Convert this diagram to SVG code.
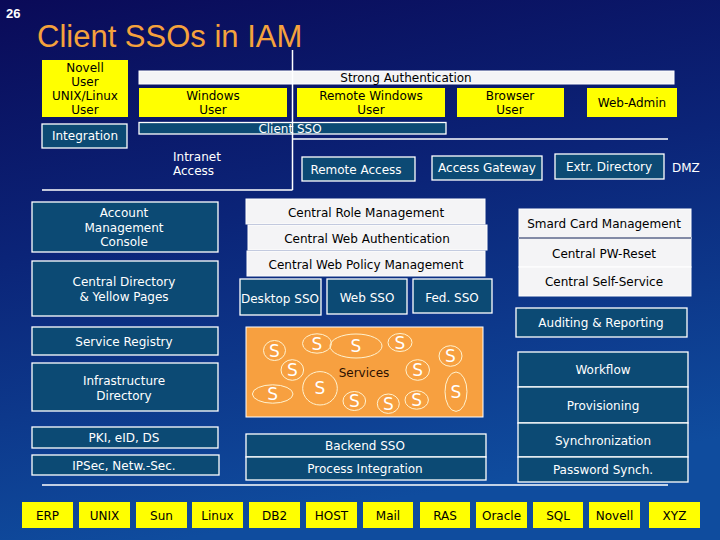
<svg xmlns="http://www.w3.org/2000/svg" width="720" height="540" viewBox="0 0 720 540">
<defs>
<linearGradient id="bg" x1="0" y1="0" x2="0.25" y2="1">
<stop offset="0" stop-color="#0a0a58"/>
<stop offset="0.45" stop-color="#0b2478"/>
<stop offset="1" stop-color="#0f4c9e"/>
</linearGradient>
<style>
text{font-family:"DejaVu Sans",Verdana,sans-serif;font-size:12px;text-anchor:middle}
.y{fill:#ffff00;stroke:none}
.yt{fill:#000}
.t{fill:#0c4a74;stroke:#fff;stroke-width:1.3}
.tt{fill:#fff}
.w{fill:#f4f4f6;stroke:#fff;stroke-width:1}
.wt{fill:#000}
.ln{stroke:#fff;stroke-width:1.5;fill:none}
.s{fill:none;stroke:#fff3d0;stroke-width:1}
.st{fill:#fff;font-size:17px}
</style>
</defs>
<rect width="720" height="540" fill="url(#bg)"/>
<text x="6" y="18" style="font-family:'Liberation Sans',Arial,sans-serif;font-weight:bold;font-size:13px;text-anchor:start;fill:#fff">26</text>
<text x="37" y="47" style="font-family:'Liberation Sans',Arial,sans-serif;font-size:31px;text-anchor:start;fill:#f5a23c">Client SSOs in IAM</text>

<g id="novell-unix"><rect class="y" x="42" y="60" width="86" height="57"/>
<text class="yt" x="85" y="72">Novell</text><text class="yt" x="85" y="86">User</text><text class="yt" x="85" y="100">UNIX/Linux</text><text class="yt" x="85" y="114">User</text></g>
<g id="integration"><rect class="t" x="42" y="124" width="85" height="24"/><text class="tt" x="85" y="140">Integration</text></g>
<g id="strong-auth"><rect class="w" x="139" y="71" width="535" height="13"/><text class="wt" x="406" y="82">Strong Authentication</text></g>
<g id="windows-user"><rect class="y" x="139" y="88" width="148" height="29"/><text class="yt" x="213" y="100">Windows</text><text class="yt" x="213" y="114">User</text></g>
<g id="remote-windows-user"><rect class="y" x="297" y="88" width="148" height="29"/><text class="yt" x="371" y="100">Remote Windows</text><text class="yt" x="371" y="114">User</text></g>
<g id="browser-user"><rect class="y" x="457" y="88" width="107" height="29"/><text class="yt" x="510" y="100">Browser</text><text class="yt" x="510" y="114">User</text></g>
<g id="web-admin"><rect class="y" x="587" y="88" width="90" height="29"/><text class="yt" x="632" y="107">Web-Admin</text></g>
<g id="client-sso"><rect class="t" x="139" y="122.5" width="307" height="11.5"/><text class="tt" x="290" y="132.5">Client SSO</text></g>
<g id="intranet-access"><text class="tt" x="173" y="161" style="text-anchor:start">Intranet</text><text class="tt" x="173" y="175" style="text-anchor:start">Access</text></g>
<g id="remote-access"><rect class="t" x="302" y="157" width="113" height="24"/><text class="tt" x="356" y="173.5">Remote Access</text></g>
<g id="access-gateway"><rect class="t" x="432" y="156" width="110" height="24"/><text class="tt" x="487" y="172">Access Gateway</text></g>
<g id="extr-directory"><rect class="t" x="555" y="154" width="109" height="25"/><text class="tt" x="609" y="170.5">Extr. Directory</text></g>
<g id="dmz"><text class="tt" x="672" y="172" style="text-anchor:start">DMZ</text></g>

<g id="account-mgmt"><rect class="t" x="32" y="202" width="186" height="50"/><text class="tt" x="124" y="217">Account</text><text class="tt" x="124" y="232">Management</text><text class="tt" x="124" y="246">Console</text></g>
<g id="central-directory"><rect class="t" x="32" y="261" width="186" height="55"/><text class="tt" x="124" y="285.5">Central Directory</text><text class="tt" x="124" y="300.5">&amp; Yellow Pages</text></g>
<g id="service-registry"><rect class="t" x="32" y="327" width="186" height="28"/><text class="tt" x="124" y="345.5">Service Registry</text></g>
<g id="infra-directory"><rect class="t" x="32" y="363" width="186" height="48"/><text class="tt" x="124" y="384.5">Infrastructure</text><text class="tt" x="124" y="399.5">Directory</text></g>
<g id="pki"><rect class="t" x="32" y="427" width="186" height="21"/><text class="tt" x="124" y="442">PKI, eID, DS</text></g>
<g id="ipsec"><rect class="t" x="32" y="455" width="187" height="20"/><text class="tt" x="124" y="469.5">IPSec, Netw.-Sec.</text></g>

<g id="central-role"><rect class="w" x="246" y="199" width="239" height="25"/><text class="wt" x="366" y="217">Central Role Management</text></g>
<g id="central-web-auth"><rect class="w" x="248" y="225" width="239" height="25"/><text class="wt" x="367" y="242.5">Central Web Authentication</text></g>
<g id="central-web-policy"><rect class="w" x="247" y="251" width="238" height="25"/><text class="wt" x="366" y="268.5">Central Web Policy Management</text></g>
<g id="desktop-sso"><rect class="t" x="240" y="279" width="81" height="36"/><text class="tt" x="280" y="302.5">Desktop SSO</text></g>
<g id="web-sso"><rect class="t" x="327" y="279" width="80" height="35"/><text class="tt" x="367" y="301.5">Web SSO</text></g>
<g id="fed-sso"><rect class="t" x="413" y="279" width="79" height="34"/><text class="tt" x="452" y="301.5">Fed. SSO</text></g>

<g id="smard-card"><rect class="w" x="519" y="209" width="172" height="29"/><text class="wt" x="604" y="228">Smard Card Management</text></g>
<g id="central-pw-reset"><rect class="w" x="519" y="238" width="172" height="29"/><text class="wt" x="604" y="257.5">Central PW-Reset</text></g>
<g id="central-self-service"><rect class="w" x="519" y="267" width="172" height="29"/><text class="wt" x="604" y="285.5">Central Self-Service</text></g>
<line x1="519" y1="238" x2="691" y2="238" stroke="#0b1a50" stroke-width="1"/>
<g id="auditing"><rect class="t" x="516" y="308" width="171" height="29"/><text class="tt" x="601" y="327">Auditing &amp; Reporting</text></g>

<g id="services"><rect x="246" y="327" width="237" height="90" fill="#f7a040" stroke="#fff" stroke-width="1"/>
<text x="364" y="376.5" style="fill:#2a1000">Services</text>
<ellipse class="s" cx="274.5" cy="350.5" rx="11" ry="10"/><text class="st" x="274.5" y="356.5">S</text>
<ellipse class="s" cx="317" cy="343.5" rx="14.5" ry="9.7"/><text class="st" x="317" y="349.5">S</text>
<ellipse class="s" cx="356" cy="346" rx="26" ry="12"/><text class="st" x="356" y="352">S</text>
<ellipse class="s" cx="400" cy="342.5" rx="12" ry="9"/><text class="st" x="400" y="348.5">S</text>
<ellipse class="s" cx="450.5" cy="356" rx="11.5" ry="10.3"/><text class="st" x="450.5" y="362">S</text>
<ellipse class="s" cx="292.3" cy="370" rx="11.3" ry="10.3"/><text class="st" x="292.3" y="376">S</text>
<ellipse class="s" cx="417.7" cy="370" rx="11.8" ry="10.3"/><text class="st" x="417.7" y="376">S</text>
<ellipse class="s" cx="320" cy="388.3" rx="17.3" ry="16.7"/><text class="st" x="320" y="394.3">S</text>
<ellipse class="s" cx="272.7" cy="394" rx="20.3" ry="9.2"/><text class="st" x="272.7" y="400">S</text>
<ellipse class="s" cx="456" cy="391.7" rx="11" ry="19.7"/><text class="st" x="456" y="397.7">S</text>
<ellipse class="s" cx="354.3" cy="401" rx="11.3" ry="9.5"/><text class="st" x="354.3" y="407">S</text>
<ellipse class="s" cx="388.3" cy="403.7" rx="11" ry="9.7"/><text class="st" x="388.3" y="409.7">S</text>
<ellipse class="s" cx="416.7" cy="400" rx="11.7" ry="9.2"/><text class="st" x="416.7" y="406">S</text>
</g>

<g id="backend-sso"><rect class="t" x="246" y="434" width="240" height="23"/><text class="tt" x="365" y="449.5">Backend SSO</text></g>
<g id="process-integration"><rect class="t" x="246" y="457" width="240" height="23"/><text class="tt" x="365" y="472.5">Process Integration</text></g>

<g id="workflow"><rect class="t" x="518" y="352" width="170" height="35"/><text class="tt" x="603" y="373.5">Workflow</text></g>
<g id="provisioning"><rect class="t" x="518" y="387" width="170" height="36"/><text class="tt" x="603" y="409.5">Provisioning</text></g>
<g id="synchronization"><rect class="t" x="518" y="423" width="170" height="34"/><text class="tt" x="603" y="444.5">Synchronization</text></g>
<g id="password-synch"><rect class="t" x="518" y="457" width="170" height="25"/><text class="tt" x="603" y="473.5">Password Synch.</text></g>

<g id="erp"><rect class="y" x="22" y="502" width="51" height="26"/><text class="yt" x="47.5" y="519.5">ERP</text></g>
<g id="unix"><rect class="y" x="79" y="502" width="51" height="26"/><text class="yt" x="104.5" y="519.5">UNIX</text></g>
<g id="sun"><rect class="y" x="136" y="502" width="51" height="26"/><text class="yt" x="161.5" y="519.5">Sun</text></g>
<g id="linux"><rect class="y" x="192" y="502" width="51" height="26"/><text class="yt" x="217.5" y="519.5">Linux</text></g>
<g id="db2"><rect class="y" x="249" y="502" width="51" height="26"/><text class="yt" x="274.5" y="519.5">DB2</text></g>
<g id="host"><rect class="y" x="306" y="502" width="51" height="26"/><text class="yt" x="331.5" y="519.5">HOST</text></g>
<g id="mail"><rect class="y" x="363" y="502" width="50" height="26"/><text class="yt" x="388" y="519.5">Mail</text></g>
<g id="ras"><rect class="y" x="420" y="502" width="50" height="26"/><text class="yt" x="445" y="519.5">RAS</text></g>
<g id="oracle"><rect class="y" x="476" y="502" width="51" height="26"/><text class="yt" x="501.5" y="519.5">Oracle</text></g>
<g id="sql"><rect class="y" x="533" y="502" width="50" height="26"/><text class="yt" x="558" y="519.5">SQL</text></g>
<g id="novell"><rect class="y" x="589" y="502" width="51" height="26"/><text class="yt" x="614.5" y="519.5">Novell</text></g>
<g id="xyz"><rect class="y" x="649" y="502" width="51" height="26"/><text class="yt" x="674.5" y="519.5">XYZ</text></g>

<g id="connectors">
<line class="ln" x1="292.5" y1="50" x2="292.5" y2="190"/>
<line class="ln" x1="292.5" y1="139" x2="668" y2="139"/>
<line class="ln" x1="42" y1="190" x2="292.5" y2="190"/>
<line class="ln" x1="42" y1="485" x2="668" y2="485"/>
</g>
</svg>
